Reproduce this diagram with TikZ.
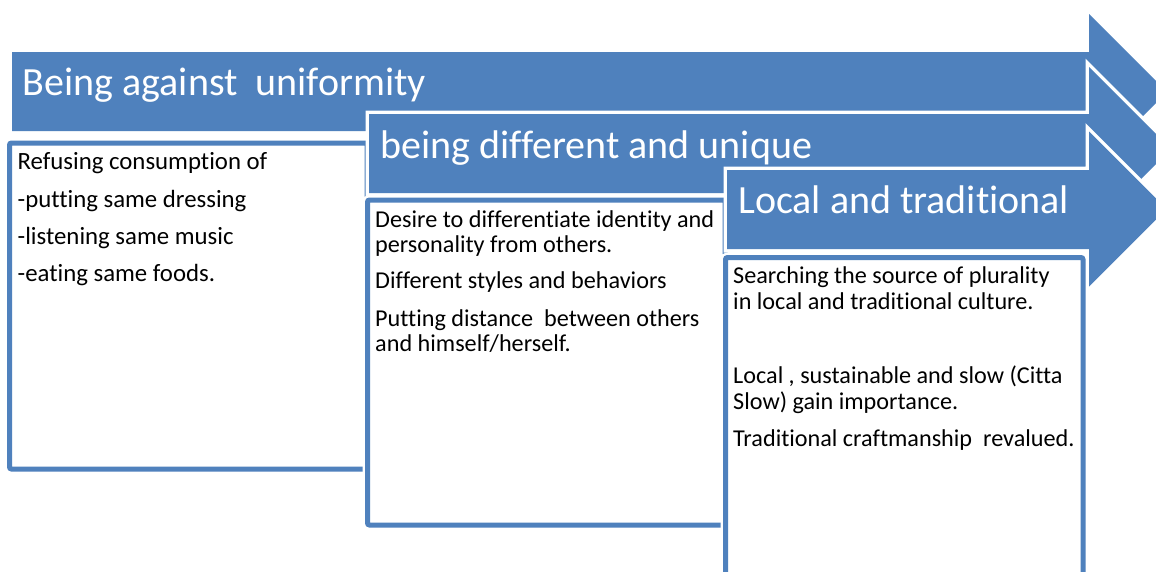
\documentclass[tikz,border=0pt]{standalone}
\usepackage{fontspec}
\setmainfont{Carlito}[Ligatures=NoCommon]
\definecolor{accent}{RGB}{79,129,189}
\begin{document}
\begin{tikzpicture}[x=1pt,y=-1pt,
  arrowshape/.style={fill=accent, preaction={draw=white, line width=7pt, line join=miter}},
  boxshape/.style={draw=accent, fill=white, line width=5pt, rounded corners=2pt, preaction={draw=white, line width=10pt}},
  headtext/.style={anchor=base west, text=white, inner sep=0pt, font=\fontsize{40}{48}\selectfont},
  bodytext/.style={anchor=base west, text=black, inner sep=0pt, font=\fontsize{24.8}{30}\selectfont},
  bodytextb/.style={bodytext, font=\fontsize{24.2}{29}\selectfont}]
\useasboundingbox (0,0) rectangle (1156,571);

% arrow 1 and box 1
\path[arrowshape] (12,52) -- (1089,52) -- (1089,14) -- (1167,92) -- (1089,170) -- (1089,131) -- (12,131) -- cycle;
\path[boxshape] (9.5,143) rectangle (367,469);
\node[headtext] (h1) at (22.5,95) {Being against~ uniformity};
\node[bodytext] (a1) at (17.5,169) {Refusing consumption of};
\node[bodytext] (a2) at (17.5,207) {-putting same dressing};
\node[bodytext] (a3) at (17.5,244) {-listening same music};
\node[bodytext] (a4) at (17.5,281) {-eating same foods.};

% arrow 2 and box 2
\path[arrowshape] (369,114) -- (1089,114) -- (1089,67) -- (1171,149) -- (1089,231) -- (1089,193) -- (369,193) -- cycle;
\path[boxshape] (367.5,200) rectangle (725,525);
\node[headtext] (h2) at (380,158) {being different and unique};
\node[bodytextb] (b1) at (375,227) {Desire to differentiate identity and};
\node[bodytextb] (b2) at (375,252) {personality from others.};
\node[bodytextb] (b3) at (375,288) {Different styles and behaviors};
\node[bodytextb] (b4) at (375,326) {Putting distance~ between others};
\node[bodytextb] (b5) at (375,351) {and himself/herself.};

% arrow 3 and box 3
\path[arrowshape] (727,170) -- (1089,170) -- (1089,131.5) -- (1166.5,209) -- (1089,286.5) -- (1089,249) -- (727,249) -- cycle;
\path[boxshape] (725.5,257.5) rectangle (1083,620);
\node[headtext] (h3) at (738,213) {Local and traditional};
\node[bodytextb] (c1) at (733,283) {Searching the source of plurality};
\node[bodytextb] (c2) at (733,309) {in local and traditional culture.};
\node[bodytextb] (c3) at (733,383) {Local , sustainable and slow (Citta};
\node[bodytextb] (c4) at (733,409) {Slow) gain importance.};
\node[bodytextb] (c5) at (733,446) {Traditional craftmanship~ revalued.};
\end{tikzpicture}
\end{document}
